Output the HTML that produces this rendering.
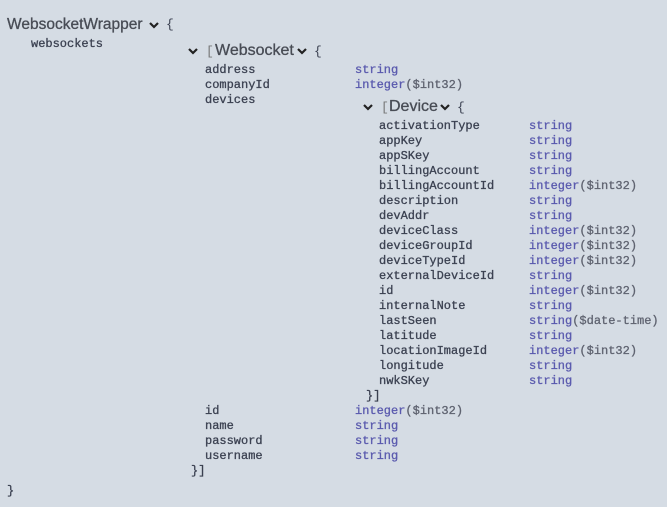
<!DOCTYPE html>
<html><head><style>
body{margin:0;width:667px;height:507px;background:#d5dce4;position:relative;overflow:hidden}
.m{position:absolute;font:12px/15px "Liberation Mono",monospace;color:#3b4151;white-space:pre;-webkit-text-stroke:0.3px #3b4151}
.t{color:#5a5aae;-webkit-text-stroke:0.3px #5a5aae}
.f{color:#5f6370;-webkit-text-stroke:0.3px #5f6370}
.h{position:absolute;font:16px/20px "Liberation Sans",sans-serif;color:#484c55;white-space:pre;-webkit-text-stroke:0.3px #484c55}
.b{position:absolute;font:13px/20px "Liberation Mono",monospace;color:#3b4151}
svg{position:absolute}
</style></head><body>
<div class="h" style="left:7px;top:15px;font-size:15.5px">WebsocketWrapper</div>
<svg style="left:148px;top:20px" width="12" height="10"><polyline points="2,3 6,7 10,3" fill="none" stroke="#222" stroke-width="2.2"/></svg>
<div class="b" style="left:166px;top:15px">{</div>
<div class="m" style="left:31px;top:37px">websockets</div>

<svg style="left:187px;top:46px" width="12" height="10"><polyline points="2,3 6,7 10,3" fill="none" stroke="#222" stroke-width="2.2"/></svg>
<div class="b" style="left:206px;top:42px;color:#777">[</div>
<div class="h" style="left:215px;top:41px">Websocket</div>
<svg style="left:296px;top:46px" width="12" height="10"><polyline points="2,3 6,7 10,3" fill="none" stroke="#222" stroke-width="2.2"/></svg>
<div class="b" style="left:314px;top:42px">{</div>

<div class="m" style="left:205px;top:63px">address
companyId
devices</div>
<div class="m t" style="left:355px;top:63px">string
integer<span class="f">($int32)</span></div>

<svg style="left:362px;top:102px" width="12" height="10"><polyline points="2,3 6,7 10,3" fill="none" stroke="#222" stroke-width="2.2"/></svg>
<div class="b" style="left:381px;top:98px;color:#777">[</div>
<div class="h" style="left:389px;top:97px">Device</div>
<svg style="left:439px;top:102px" width="12" height="10"><polyline points="2,3 6,7 10,3" fill="none" stroke="#222" stroke-width="2.2"/></svg>
<div class="b" style="left:457px;top:98px">{</div>

<div class="m" style="left:379px;top:119px">activationType
appKey
appSKey
billingAccount
billingAccountId
description
devAddr
deviceClass
deviceGroupId
deviceTypeId
externalDeviceId
id
internalNote
lastSeen
latitude
locationImageId
longitude
nwkSKey</div>
<div class="m t" style="left:529px;top:119px">string
string
string
string
integer<span class="f">($int32)</span>
string
string
integer<span class="f">($int32)</span>
integer<span class="f">($int32)</span>
integer<span class="f">($int32)</span>
string
integer<span class="f">($int32)</span>
string
string<span class="f">($date-time)</span>
string
integer<span class="f">($int32)</span>
string
string</div>
<div class="m" style="left:366px;top:389px">}]</div>

<div class="m" style="left:205px;top:404px">id
name
password
username</div>
<div class="m t" style="left:355px;top:404px">integer<span class="f">($int32)</span>
string
string
string</div>
<div class="m" style="left:191px;top:464px">}]</div>
<div class="m" style="left:7px;top:484px">}</div>
</body></html>
